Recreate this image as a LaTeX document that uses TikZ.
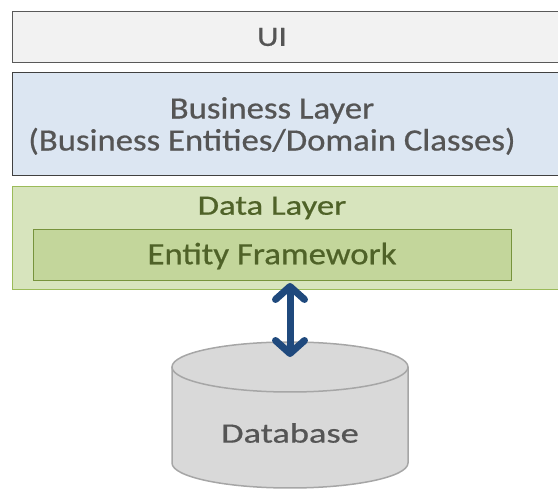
\documentclass[tikz,border=0pt]{standalone}
\usepackage{fontspec}
\setmainfont{Carlito}[FakeBold=0.6]
\usetikzlibrary{arrows.meta}
\definecolor{uifill}{HTML}{F2F2F2}
\definecolor{uidraw}{HTML}{595959}
\definecolor{bizfill}{HTML}{DCE6F2}
\definecolor{bizdraw}{HTML}{404040}
\definecolor{datafill}{HTML}{D7E4BD}
\definecolor{datadraw}{HTML}{9BBB59}
\definecolor{effill}{HTML}{C3D69B}
\definecolor{efdraw}{HTML}{77933C}
\definecolor{greentext}{HTML}{4F6228}
\definecolor{graytext}{HTML}{555555}
\definecolor{dbfill}{HTML}{D9D9D9}
\definecolor{dbdraw}{HTML}{A6A6A6}
\definecolor{arrowblue}{HTML}{1F497D}
\newcommand\hstretch[2]{\scalebox{#1}[1]{#2}}
\tikzset{
  box/.style={rectangle, anchor=north west, inner sep=0pt, line width=1.2pt},
  lbl/.style={inner sep=0pt, font=\fontsize{28}{34}\selectfont, align=center},
  arr/.style={line width=7pt, color=arrowblue, {Straight Barb[length=13pt,width=29pt,round]}-{Straight Barb[length=13pt,width=29pt,round]}}
}
\begin{document}
\begin{tikzpicture}[x=1pt,y=-1pt]
\useasboundingbox (0,0) rectangle (558,489);
\node[box, draw=uidraw, fill=uifill, minimum width=552pt, minimum height=51pt] (ui) at (12,11) {};
\node[box, draw=bizdraw, fill=bizfill, minimum width=552pt, minimum height=103pt] (biz) at (12,72) {};
\node[box, draw=datadraw, fill=datafill, minimum width=552pt, minimum height=103pt] (data) at (12,186) {};
\node[box, draw=efdraw, fill=effill, minimum width=478pt, minimum height=51pt] (ef) at (33,229) {};
\node[lbl, text=graytext] (uit) at (272,37) {\hstretch{1.19}{UI}};
\node[lbl, text=graytext, font=\fontsize{31}{32}\selectfont] (bizt) at (272,126) {\hstretch{1.12}{Business Layer}\\\hstretch{1.12}{(Business Entities/Domain Classes)}};
\node[lbl, text=greentext] (datat) at (272,208) {\hstretch{1.24}{Data Layer}};
\node[lbl, text=greentext, font=\fontsize{31}{34}\selectfont] (eft) at (272,256) {\hstretch{1.12}{Entity Framework}};
% database cylinder
\fill[dbfill] (172,367) -- (172,463) arc[start angle=180, end angle=0, x radius=118, y radius=25] -- (408,367) -- cycle;
\draw[dbdraw, line width=1.5pt] (172,367) -- (172,463) arc[start angle=180, end angle=0, x radius=118, y radius=25] -- (408,367);
\draw[dbdraw, fill=dbfill, line width=1.5pt] (290,367) ellipse [x radius=118, y radius=25];
\node[lbl, text=graytext] (db) at (290,433) {\hstretch{1.3}{Database}};
\coordinate (atop) at (290,283);
\coordinate (abot) at (290,357);
\draw[arr] (atop) -- (abot);
\end{tikzpicture}
\end{document}
